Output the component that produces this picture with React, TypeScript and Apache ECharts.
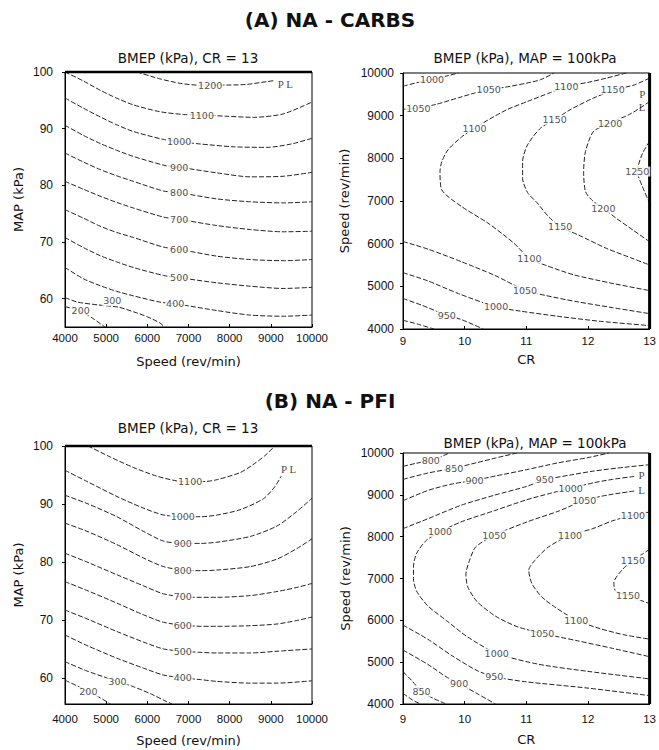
import React, { useEffect, useRef } from "react";
import * as echarts from "echarts";

type Pt = [number, number];
type Contour = { level: number; pts: Pt[] };
type Lbl = [number, number, string];

// ---------- tick values ----------
const speedTicks = [4000, 5000, 6000, 7000, 8000, 9000, 10000];
const mapTicks = [60, 70, 80, 90, 100];
const crTicks = [9, 10, 11, 12, 13];

// ---------- (A) NA - CARBS : BMEP (kPa), CR = 13  (x = Speed, y = MAP) ----------
const carbsCr13: Contour[] = [
  { level: 1200, pts: [[5750, 100], [6300, 98.8], [6800, 98.0], [7200, 97.7], [7527, 97.7], [7900, 97.7], [8400, 97.8], [8900, 98.3], [9100, 98.5]] },
  { level: 1100, pts: [[4000, 100], [4450, 98.4], [4850, 96.8], [5250, 95.4], [5660, 94.2], [6300, 93.0], [6880, 92.5], [7324, 92.4], [7900, 92.2], [8580, 92.0], [9300, 92.6], [10000, 94.7]] },
  { level: 1000, pts: [[4000, 95.4], [4450, 93.6], [4850, 92.1], [5250, 90.7], [5660, 89.5], [6390, 88.1], [6773, 87.7], [7280, 87.3], [8100, 86.8], [8900, 86.7], [9500, 87.3], [10000, 88.3]] },
  { level: 900, pts: [[4000, 90.6], [4450, 88.8], [4850, 87.4], [5250, 86.2], [5660, 85.1], [6430, 83.5], [6773, 83.2], [7690, 82.2], [8500, 81.5], [9300, 81.6], [10000, 82.3]] },
  { level: 800, pts: [[4000, 85.7], [4450, 84.1], [4850, 82.8], [5250, 81.7], [5660, 80.7], [6390, 79.0], [6773, 78.7], [7690, 77.6], [8500, 77.1], [9300, 76.9], [10000, 77.1]] },
  { level: 700, pts: [[4000, 80.7], [4450, 79.3], [4850, 78.1], [5250, 77.0], [5660, 76.0], [6390, 74.4], [6773, 74.0], [7690, 72.9], [8500, 72.2], [9300, 71.8], [10000, 71.9]] },
  { level: 600, pts: [[4000, 75.7], [4450, 74.2], [4850, 72.8], [5250, 71.7], [5660, 70.8], [6390, 69.1], [6773, 68.7], [7690, 67.5], [8500, 66.9], [9300, 66.7], [10000, 66.9]] },
  { level: 500, pts: [[4000, 70.8], [4450, 69.0], [4850, 67.6], [5250, 66.5], [5660, 65.5], [6390, 64.1], [6773, 63.7], [7690, 62.8], [8500, 62.2], [9300, 61.8], [10000, 62.0]] },
  { level: 400, pts: [[4000, 65.5], [4450, 63.5], [4850, 62.3], [5250, 61.3], [5660, 60.5], [6300, 59.4], [6676, 59.1], [7690, 57.9], [8500, 57.1], [9300, 56.9], [10000, 57.1]] },
  { level: 300, pts: [[4000, 60.2], [4300, 59.4], [4800, 58.9], [5300, 58.5], [5700, 57.6], [6000, 56.8], [6310, 55.7], [6420, 55.0]] },
  { level: 200, pts: [[4000, 58.6], [4250, 58.1], [4500, 57.3], [4700, 56.4], [4970, 55.0]] },
];
const carbsCr13Labels: Lbl[] = [
  [7527, 97.7, "1200"], [7324, 92.4, "1100"], [6773, 87.7, "1000"], [6773, 83.2, "900"],
  [6773, 78.7, "800"], [6773, 74.0, "700"], [6773, 68.7, "600"], [6773, 63.7, "500"],
  [6676, 59.1, "400"], [5150, 59.6, "300"], [4381, 57.9, "200"],
];
const carbsCr13Marks: Lbl[] = [[9351, 97.9, "P L"]];

// ---------- (A) NA - CARBS : BMEP (kPa), MAP = 100kPa  (x = CR, y = Speed) ----------
const carbsMap100: Contour[] = [
  { level: 1000, pts: [[9, 9690], [9.3, 9800], [9.47, 9843], [9.6, 9890], [9.9, 10000]] },
  { level: 1050, pts: [[9, 9150], [9.25, 9178], [9.55, 9270], [9.9, 9420], [10.16, 9530], [10.39, 9608], [10.64, 9663], [11.0, 9760], [11.23, 9843], [11.45, 10000]] },
  { level: 1100, pts: [[12.62, 10000], [12.3, 9880], [12.0, 9780], [11.65, 9687], [11.39, 9540], [11.02, 9334], [10.7, 9150], [10.48, 8982], [10.16, 8708], [9.95, 8500], [9.73, 8199], [9.63, 7925], [9.6, 7690], [9.63, 7260], [9.95, 6870], [10.38, 6480], [10.8, 6010], [11.05, 5654], [11.34, 5480], [11.77, 5270], [12.36, 5080], [13, 4900]] },
  { level: 1150, pts: [[13, 9880], [12.75, 9720], [12.44, 9608], [12.09, 9413], [11.71, 9139], [11.46, 8904], [11.23, 8708], [11.02, 8316], [10.94, 7925], [10.94, 7533], [11.02, 7200], [11.18, 6950], [11.35, 6650], [11.55, 6398], [11.85, 6200], [12.3, 5890], [12.73, 5650], [13, 5500]] },
  { level: 1200, pts: [[13, 9330], [12.7, 9050], [12.36, 8826], [12.09, 8630], [11.96, 8160], [11.93, 7690], [11.96, 7220], [12.08, 7000], [12.25, 6828], [12.46, 6593], [12.73, 6319], [13, 6045]] },
  { level: 1250, pts: [[13, 8400], [12.88, 8100], [12.8, 7690], [12.88, 7350], [13, 6950]] },
  { level: 1050, pts: [[9, 6050], [9.41, 5870], [9.95, 5576], [10.48, 5262], [10.98, 4910], [11.3, 4790], [11.82, 4640], [12.4, 4500], [13, 4360]] },
  { level: 1000, pts: [[9, 5320], [9.4, 5130], [9.9, 4830], [10.51, 4518], [10.9, 4420], [11.5, 4300], [12.2, 4180], [13, 4080]] },
  { level: 950, pts: [[9, 4714], [9.3, 4560], [9.71, 4323], [9.95, 4220], [10.3, 4000]] },
  { level: 900, pts: [[9, 4205], [9.25, 4110], [9.5, 4000]] },
];
const carbsMap100Labels: Lbl[] = [
  [9.47, 9843, "1000"], [9.25, 9178, "1050"], [10.39, 9608, "1050"], [11.65, 9687, "1100"],
  [12.4, 9608, "1150"], [10.16, 8708, "1100"], [11.46, 8904, "1150"], [12.36, 8826, "1200"],
  [12.8, 7690, "1250"], [12.25, 6828, "1200"], [11.55, 6398, "1150"], [11.05, 5654, "1100"],
  [10.98, 4910, "1050"], [10.51, 4518, "1000"], [9.71, 4323, "950"],
];
const carbsMap100Marks: Lbl[] = [[12.88, 9500, "P"], [12.88, 9200, "L"]];

// ---------- (B) NA - PFI : BMEP (kPa), CR = 13  (x = Speed, y = MAP) ----------
const pfiCr13: Contour[] = [
  { level: 1100, pts: [[4560, 100], [5100, 98.1], [5660, 96.3], [6230, 94.8], [6700, 94.0], [7040, 93.8], [7450, 93.9], [7700, 94.2], [8250, 95.4], [8550, 96.7], [8850, 98.3], [9100, 100]] },
  { level: 1000, pts: [[4000, 95.8], [4530, 93.9], [5260, 91.3], [5900, 89.3], [6390, 88.1], [6862, 87.8], [7300, 87.8], [7700, 88.1], [8250, 89.0], [8820, 90.9], [9100, 93.0], [9250, 94.8]] },
  { level: 900, pts: [[4000, 91.5], [4530, 90.1], [5260, 87.8], [5900, 85.3], [6390, 83.6], [6862, 83.2], [7300, 83.2], [7690, 83.4], [8500, 84.4], [9150, 86.2], [9630, 88.7], [10000, 91.0]] },
  { level: 800, pts: [[4000, 86.7], [4530, 85.3], [5260, 83.0], [5900, 80.7], [6390, 79.2], [6862, 78.6], [7300, 78.5], [7690, 78.6], [8500, 79.2], [9150, 80.5], [9630, 82.3], [10000, 84.0]] },
  { level: 700, pts: [[4000, 81.5], [4530, 80.0], [5260, 77.8], [5900, 75.9], [6390, 74.5], [6862, 74.0], [7300, 73.9], [7690, 73.9], [8500, 74.2], [9150, 74.9], [9630, 75.6], [10000, 76.3]] },
  { level: 600, pts: [[4000, 76.6], [4530, 75.1], [5260, 72.9], [5900, 70.9], [6390, 69.6], [6862, 69.1], [7300, 68.9], [7690, 68.9], [8500, 69.0], [9150, 69.3], [9630, 69.9], [10000, 70.5]] },
  { level: 500, pts: [[4000, 71.7], [4530, 70.2], [5260, 68.0], [5900, 66.2], [6390, 65.0], [6862, 64.6], [7300, 64.4], [7690, 64.3], [8500, 64.3], [9150, 64.6], [10000, 65.0]] },
  { level: 400, pts: [[4000, 67.4], [4530, 65.6], [5260, 63.4], [5900, 61.7], [6390, 60.5], [6862, 60.0], [7300, 59.7], [7690, 59.4], [8500, 59.1], [9150, 59.1], [10000, 59.5]] },
  { level: 300, pts: [[4000, 62.8], [4530, 61.2], [5100, 59.8], [5300, 59.3], [5620, 58.6], [6100, 57.2], [6470, 55.9], [6600, 55.5]] },
  { level: 200, pts: [[4000, 59.6], [4300, 58.6], [4568, 57.6], [4850, 56.6], [5100, 55.5]] },
];
const pfiCr13Labels: Lbl[] = [
  [7040, 93.8, "1100"], [6862, 87.8, "1000"], [6862, 83.2, "900"], [6862, 78.6, "800"],
  [6862, 74.0, "700"], [6862, 69.1, "600"], [6862, 64.6, "500"], [6862, 60.0, "400"],
  [5273, 59.3, "300"], [4568, 57.6, "200"],
];
const pfiCr13Marks: Lbl[] = [[9430, 96.1, "P L"]];

// ---------- (B) NA - PFI : BMEP (kPa), MAP = 100kPa  (x = CR, y = Speed) ----------
const pfiMap100: Contour[] = [
  { level: 800, pts: [[9, 9680], [9.2, 9750], [9.45, 9825], [9.6, 9900], [9.75, 10000]] },
  { level: 850, pts: [[9, 9370], [9.4, 9520], [9.83, 9640], [10.2, 9770], [10.5, 9880], [10.85, 10000]] },
  { level: 900, pts: [[9, 8860], [9.41, 9108], [9.8, 9260], [10.16, 9347], [10.5, 9450], [11.0, 9600], [11.5, 9760], [12.0, 9890], [12.34, 10000]] },
  { level: 950, pts: [[9, 8193], [9.41, 8432], [9.94, 8750], [10.48, 8990], [11.0, 9200], [11.3, 9360], [11.7, 9470], [12.1, 9570], [12.6, 9660], [13, 9720]] },
  { level: 1000, pts: [[12.75, 9440], [12.4, 9370], [12.1, 9290], [11.72, 9160], [11.4, 9040], [11.0, 8880], [10.48, 8620], [9.94, 8352], [9.6, 8113], [9.38, 7915], [9.22, 7600], [9.17, 7280], [9.17, 7000], [9.22, 6700], [9.4, 6350], [9.7, 6000], [10.05, 5600], [10.52, 5209], [11.2, 4950], [12.0, 4780], [13, 4600]] },
  { level: 1050, pts: [[12.75, 9090], [12.34, 9000], [11.94, 8870], [11.54, 8620], [11.01, 8352], [10.48, 8034], [10.18, 7755], [10.08, 7437], [10.02, 7100], [10.05, 6800], [10.2, 6450], [10.5, 6100], [10.85, 5850], [11.26, 5687], [11.8, 5520], [12.4, 5330], [13, 5130]] },
  { level: 1100, pts: [[13, 8590], [12.73, 8512], [12.4, 8380], [12.08, 8193], [11.71, 8034], [11.36, 7755], [11.14, 7437], [11.04, 7198], [11.09, 6880], [11.25, 6561], [11.46, 6322], [11.81, 6005], [12.2, 5800], [12.6, 5650], [13, 5550]] },
  { level: 1150, pts: [[13, 7700], [12.88, 7580], [12.73, 7437], [12.55, 7200], [12.42, 6900], [12.45, 6700], [12.65, 6600], [12.85, 6480], [13, 6400]] },
  { level: 950, pts: [[9, 5886], [9.4, 5550], [9.8, 5150], [10.2, 4800], [10.48, 4652], [11, 4530], [12, 4380], [13, 4200]] },
  { level: 900, pts: [[9, 5289], [9.4, 4950], [9.7, 4650], [9.91, 4493], [10.2, 4250], [10.5, 4000]] },
  { level: 850, pts: [[9, 4771], [9.15, 4550], [9.3, 4293], [9.5, 4130], [9.7, 4000]] },
  { level: 800, pts: [[9, 4254], [9.15, 4100], [9.28, 4000]] },
];
const pfiMap100Labels: Lbl[] = [
  [9.45, 9825, "800"], [9.83, 9640, "850"], [10.16, 9347, "900"], [11.3, 9360, "950"],
  [11.72, 9160, "1000"], [11.94, 8870, "1050"], [12.73, 8512, "1100"], [9.6, 8113, "1000"],
  [10.48, 8034, "1050"], [11.71, 8034, "1100"], [12.73, 7437, "1150"], [12.65, 6600, "1150"],
  [11.81, 6005, "1100"], [11.26, 5687, "1050"], [10.52, 5209, "1000"], [10.48, 4652, "950"],
  [9.91, 4493, "900"], [9.3, 4293, "850"],
];
const pfiMap100Marks: Lbl[] = [[12.87, 9467, "P"], [12.87, 9108, "L"]];

// ---------- layout ----------
const grids = [
  { left: 65, top: 72, width: 247, height: 255 },
  { left: 403, top: 73, width: 249, height: 256 },
  { left: 65, top: 446, width: 247, height: 258 },
  { left: 403, top: 453, width: 250, height: 251 },
];

const SANS = "DejaVu Sans";
const TICKF = "Liberation Sans";

function contourSeries(cs: Contour[], idx: number) {
  return cs.map((c) => ({
    type: "line",
    name: `c${idx}-${c.level}`,
    xAxisIndex: idx,
    yAxisIndex: idx,
    data: c.pts,
    symbol: "none",
    showSymbol: false,
    smooth: 0.25,
    silent: true,
    z: 2,
    lineStyle: { color: "#222", width: 1, type: [5, 2] },
  }));
}

function labelSeries(ls: Lbl[], idx: number) {
  return {
    type: "scatter",
    xAxisIndex: idx,
    yAxisIndex: idx,
    symbolSize: 1,
    silent: true,
    z: 5,
    itemStyle: { color: "rgba(0,0,0,0)" },
    data: ls.map((l) => ({ value: [l[0], l[1]], name: l[2] })),
    label: {
      show: true,
      position: "inside",
      formatter: (p: any) => p.name,
      fontSize: 9.5,
      fontFamily: SANS,
      color: "#222",
      backgroundColor: "#fff",
      padding: [0, 1],
    },
  };
}

function markSeries(ls: Lbl[], idx: number) {
  return {
    type: "scatter",
    xAxisIndex: idx,
    yAxisIndex: idx,
    symbolSize: 1,
    silent: true,
    z: 6,
    itemStyle: { color: "rgba(0,0,0,0)" },
    data: ls.map((l) => ({ value: [l[0], l[1]], name: l[2] })),
    label: {
      show: true,
      position: "inside",
      formatter: (p: any) => p.name,
      fontSize: 11,
      lineHeight: 11,
      fontFamily: "Liberation Serif",
      color: "#111",
    },
  };
}

function edgeSeries(idx: number, pts: Pt[], width: number) {
  return {
    type: "line",
    xAxisIndex: idx,
    yAxisIndex: idx,
    data: pts,
    symbol: "none",
    silent: true,
    clip: false,
    z: 4,
    lineStyle: { color: "#000", width },
  };
}

const plain = (v: number) => String(v);

function xAxis(idx: number, min: number, max: number, interval: number, name: string, nameGap: number, margin: number) {
  return {
    type: "value",
    gridIndex: idx,
    min,
    max,
    interval,
    name,
    nameLocation: "middle",
    nameGap,
    nameTextStyle: { fontFamily: SANS, fontSize: 13, color: "#111" },
    axisLine: { show: true, onZero: false, lineStyle: { color: "#000", width: 1 } },
    axisTick: { show: true, inside: true, length: 3, lineStyle: { color: "#000" } },
    axisLabel: { fontFamily: TICKF, fontSize: 11.5, color: "#111", margin, formatter: plain },
    splitLine: { show: false },
  };
}

function yAxis(idx: number, min: number, max: number, interval: number | null, ticks: number[], name: string, nameGap: number, margin: number) {
  const base: any = {
    type: "value",
    gridIndex: idx,
    min,
    max,
    name,
    nameLocation: "middle",
    nameGap,
    nameRotate: 90,
    nameTextStyle: { fontFamily: SANS, fontSize: 13, color: "#111" },
    axisLine: { show: true, onZero: false, lineStyle: { color: "#000", width: 1 } },
    axisTick: { show: true, inside: false, length: 3, lineStyle: { color: "#000" } },
    axisLabel: { fontFamily: TICKF, fontSize: 12, color: "#111", margin, formatter: plain },
    splitLine: { show: false },
  };
  if (interval != null) {
    base.interval = interval;
  } else {
    base.axisTick.customValues = ticks;
    base.axisLabel.customValues = ticks;
  }
  return base;
}

function textEl(text: string, x: number, y: number, size: number, weight = "normal") {
  return {
    type: "text",
    x,
    y,
    silent: true,
    style: {
      text,
      fontSize: size,
      fontFamily: SANS,
      fontWeight: weight,
      fill: "#111",
      align: "center",
      verticalAlign: "middle",
      textAlign: "center",
      textVerticalAlign: "middle",
    },
  };
}

export default function App() {
  const ref = useRef<HTMLDivElement>(null);
  useEffect(() => {
    if (!ref.current) return;
    const chart = echarts.init(ref.current, null, { renderer: "svg" });
    const option: any = {
      animation: false,
      backgroundColor: "#fff",
      grid: grids.map((g) => ({ ...g, show: true, borderColor: "#000", borderWidth: 1, backgroundColor: "transparent", containLabel: false })),
      xAxis: [
        xAxis(0, 4000, 10000, 1000, "Speed (rev/min)", 28, 5),
        xAxis(1, 9, 13, 1, "CR", 24, 6),
        xAxis(2, 4000, 10000, 1000, "Speed (rev/min)", 30, 9),
        xAxis(3, 9, 13, 1, "CR", 29, 9),
      ],
      yAxis: [
        yAxis(0, 55, 100, null, mapTicks, "MAP (kPa)", 40, 12),
        yAxis(1, 4000, 10000, 1000, speedTicks, "Speed (rev/min)", 52, 9),
        yAxis(2, 55.5, 100, null, mapTicks, "MAP (kPa)", 40, 12),
        yAxis(3, 4000, 10000, 1000, speedTicks, "Speed (rev/min)", 51, 9),
      ],
      graphic: [
        textEl("(A) NA - CARBS", 330, 20, 20, "bold"),
        textEl("(B) NA - PFI", 330, 401, 20, "bold"),
        textEl("BMEP (kPa), CR = 13", 188, 58, 13.5),
        textEl("BMEP (kPa), MAP = 100kPa", 525, 58, 13.5),
        textEl("BMEP (kPa), CR = 13", 188, 428, 13.5),
        textEl("BMEP (kPa), MAP = 100kPa", 535, 443, 13.5),
      ],
      series: [
        ...contourSeries(carbsCr13, 0),
        ...contourSeries(carbsMap100, 1),
        ...contourSeries(pfiCr13, 2),
        ...contourSeries(pfiMap100, 3),
        labelSeries(carbsCr13Labels, 0),
        labelSeries(carbsMap100Labels, 1),
        labelSeries(pfiCr13Labels, 2),
        labelSeries(pfiMap100Labels, 3),
        markSeries(carbsCr13Marks, 0),
        markSeries(carbsMap100Marks, 1),
        markSeries(pfiCr13Marks, 2),
        markSeries(pfiMap100Marks, 3),
        edgeSeries(0, [[4000, 100], [10000, 100]], 2.5),
        edgeSeries(2, [[4000, 100], [10000, 100]], 2.5),
        edgeSeries(1, [[13, 4000], [13, 10000]], 3),
        edgeSeries(3, [[13, 4000], [13, 10000]], 3),
      ],
    };
    chart.setOption(option);
    return () => chart.dispose();
  }, []);
  return <div ref={ref} style={{ position: "absolute", left: 0, top: 0, width: 659, height: 750, background: "#fff" }} />;
}
